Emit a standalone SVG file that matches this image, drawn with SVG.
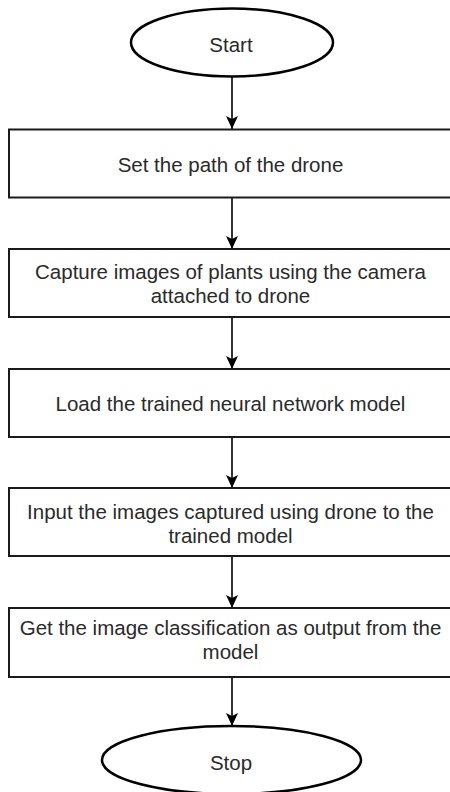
<svg xmlns="http://www.w3.org/2000/svg" width="450" height="792" viewBox="0 0 450 792">
<style>
.box{fill:#fff;stroke:#1a1a1a;stroke-width:2}
.term{fill:#fff;stroke:#000;stroke-width:2.5}
.lbl{font-family:"Liberation Sans",Arial,sans-serif;font-size:20.5px;fill:#2a2a2a;text-anchor:middle}
.edge{stroke:#000;stroke-width:1.6;fill:none}
</style>
<defs>
<marker id="ah" viewBox="0 0 13 12" refX="13" refY="6" markerWidth="13" markerHeight="12" markerUnits="userSpaceOnUse" orient="auto">
<path d="M0,0 L13,6 L0,12 L3,6 Z" fill="#000"/>
</marker>
</defs>
<rect width="450" height="792" fill="#fff"/>
<g id="connectors">
<line class="edge" x1="232" y1="77" x2="232" y2="129" marker-end="url(#ah)"/>
<line class="edge" x1="232" y1="198" x2="232" y2="249" marker-end="url(#ah)"/>
<line class="edge" x1="232" y1="317" x2="232" y2="369" marker-end="url(#ah)"/>
<line class="edge" x1="232" y1="437" x2="232" y2="488" marker-end="url(#ah)"/>
<line class="edge" x1="232" y1="556" x2="232" y2="608" marker-end="url(#ah)"/>
<line class="edge" x1="232" y1="677" x2="232" y2="726" marker-end="url(#ah)"/>
</g>
<g id="start">
<ellipse class="term" cx="232" cy="42.5" rx="101" ry="34"/>
<text class="lbl" x="231" y="52">Start</text>
</g>
<g id="step1">
<rect class="box" x="9" y="129.5" width="445" height="68"/>
<text class="lbl" x="230.5" y="172">Set the path of the drone</text>
</g>
<g id="step2">
<rect class="box" x="9" y="249" width="445" height="68"/>
<text class="lbl" x="230.5" y="279">Capture images of plants using the camera</text>
<text class="lbl" x="230.5" y="303">attached to drone</text>
</g>
<g id="step3">
<rect class="box" x="9" y="369" width="445" height="68"/>
<text class="lbl" x="230.5" y="411">Load the trained neural network model</text>
</g>
<g id="step4">
<rect class="box" x="9" y="488" width="445" height="68"/>
<text class="lbl" x="230.5" y="519">Input the images captured using drone to the</text>
<text class="lbl" x="230.5" y="543">trained model</text>
</g>
<g id="step5">
<rect class="box" x="9" y="608" width="445" height="69"/>
<text class="lbl" x="230.5" y="635">Get the image classification as output from the</text>
<text class="lbl" x="230.5" y="659">model</text>
</g>
<g id="stop">
<ellipse class="term" cx="231.5" cy="760" rx="129.5" ry="34"/>
<text class="lbl" x="231" y="770">Stop</text>
</g>
</svg>
